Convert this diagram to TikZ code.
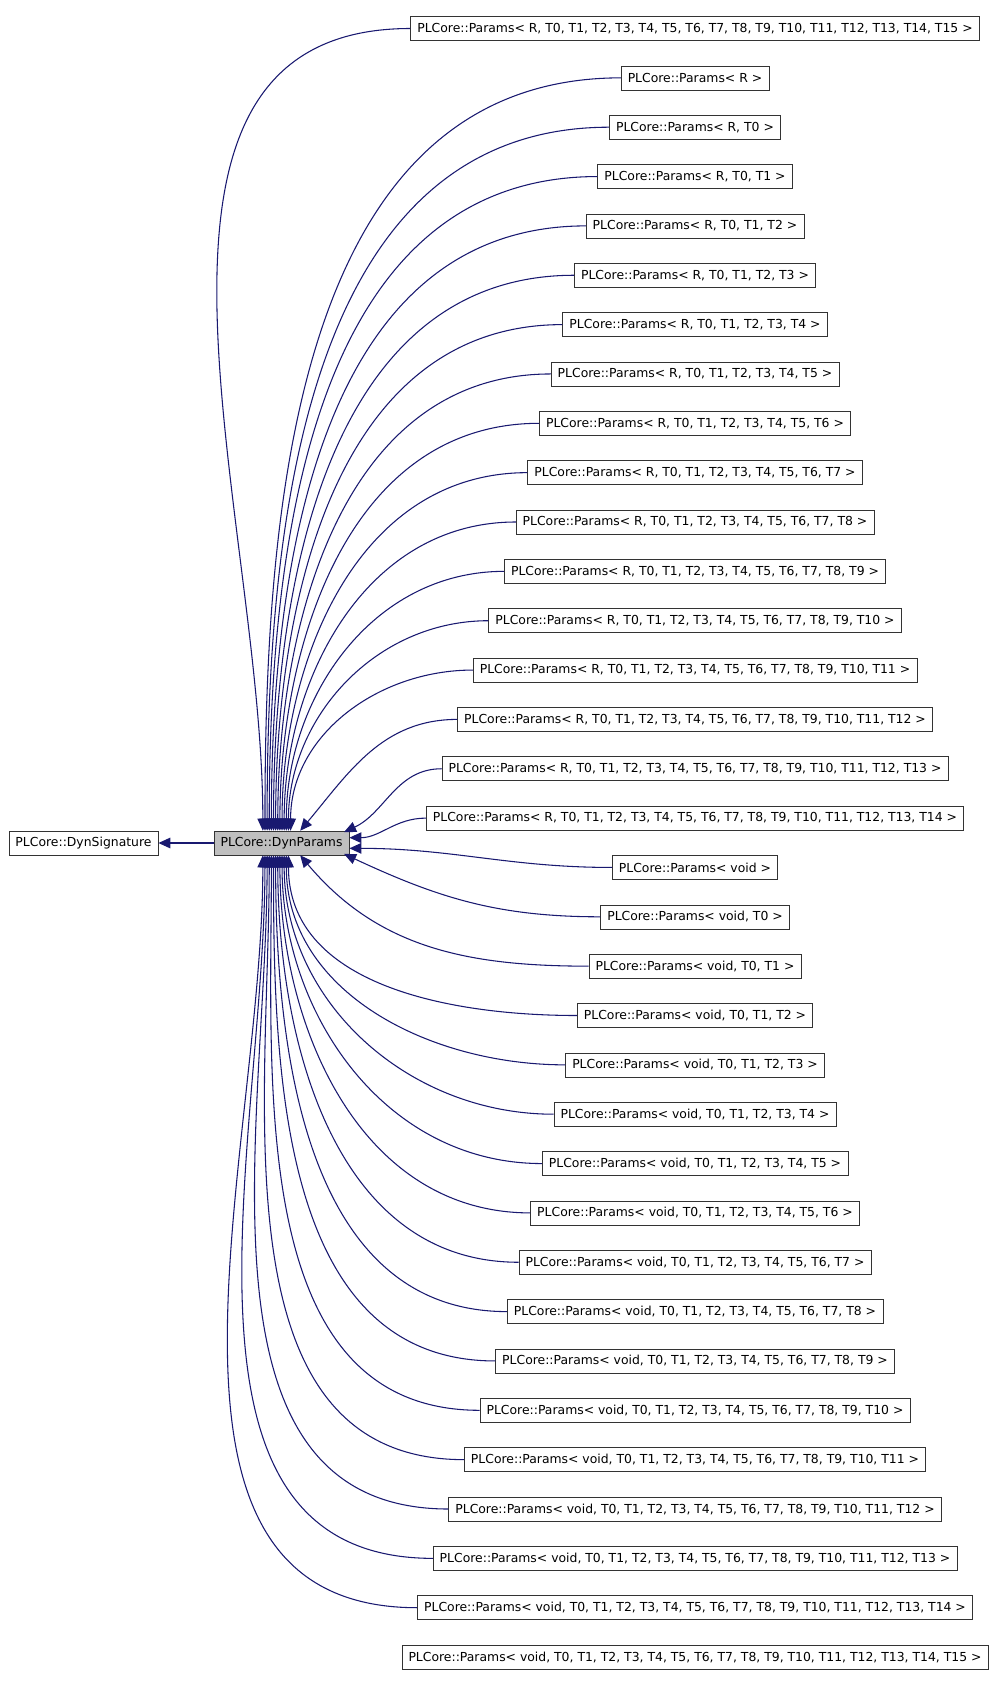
\documentclass[tikz,border=0pt]{standalone}
\usepackage{fontspec}
\setmainfont{DejaVu Sans}
\usetikzlibrary{arrows.meta,positioning}
\definecolor{myedge}{RGB}{25,25,112}
\definecolor{mygrey}{RGB}{191,191,191}
\tikzstyle{cls}=[draw=black!80,fill=white,rectangle,minimum height=18pt,inner xsep=5pt,inner ysep=0pt,font=\fontsize{9.3}{11}\selectfont]
\tikzstyle{edge}=[myedge,thick,-{Triangle[length=9pt,width=8pt]}]
\begin{document}
\begin{tikzpicture}[x=0.75pt,y=-0.75pt]
\useasboundingbox (0,0) rectangle (997,1685);
\node [cls,fill=mygrey] (dp) at (281.5,843) {PLCore::DynParams};
\node [cls] (ds) at (83.5,843) {PLCore::DynSignature};
\draw [edge] (dp) -- (ds);
\foreach \t [count=\i from 0] in {
  {R, T0, T1, T2, T3, T4, T5, T6, T7, T8, T9, T10, T11, T12, T13, T14, T15},
  {R}, {R, T0}, {R, T0, T1}, {R, T0, T1, T2}, {R, T0, T1, T2, T3},
  {R, T0, T1, T2, T3, T4}, {R, T0, T1, T2, T3, T4, T5},
  {R, T0, T1, T2, T3, T4, T5, T6}, {R, T0, T1, T2, T3, T4, T5, T6, T7},
  {R, T0, T1, T2, T3, T4, T5, T6, T7, T8}, {R, T0, T1, T2, T3, T4, T5, T6, T7, T8, T9},
  {R, T0, T1, T2, T3, T4, T5, T6, T7, T8, T9, T10},
  {R, T0, T1, T2, T3, T4, T5, T6, T7, T8, T9, T10, T11},
  {R, T0, T1, T2, T3, T4, T5, T6, T7, T8, T9, T10, T11, T12},
  {R, T0, T1, T2, T3, T4, T5, T6, T7, T8, T9, T10, T11, T12, T13},
  {R, T0, T1, T2, T3, T4, T5, T6, T7, T8, T9, T10, T11, T12, T13, T14},
  {void}, {void, T0}, {void, T0, T1}, {void, T0, T1, T2}, {void, T0, T1, T2, T3},
  {void, T0, T1, T2, T3, T4}, {void, T0, T1, T2, T3, T4, T5},
  {void, T0, T1, T2, T3, T4, T5, T6}, {void, T0, T1, T2, T3, T4, T5, T6, T7},
  {void, T0, T1, T2, T3, T4, T5, T6, T7, T8}, {void, T0, T1, T2, T3, T4, T5, T6, T7, T8, T9},
  {void, T0, T1, T2, T3, T4, T5, T6, T7, T8, T9, T10},
  {void, T0, T1, T2, T3, T4, T5, T6, T7, T8, T9, T10, T11},
  {void, T0, T1, T2, T3, T4, T5, T6, T7, T8, T9, T10, T11, T12},
  {void, T0, T1, T2, T3, T4, T5, T6, T7, T8, T9, T10, T11, T12, T13},
  {void, T0, T1, T2, T3, T4, T5, T6, T7, T8, T9, T10, T11, T12, T13, T14},
  {void, T0, T1, T2, T3, T4, T5, T6, T7, T8, T9, T10, T11, T12, T13, T14, T15}}
  \node [cls] (p\i) at (695,28.5+49.35*\i) {PLCore::Params< \t\ >};
% upper edges
\foreach \i in {0,...,13}
  \draw [edge] (p\i.west) to[out=180,in=90] ([xshift=-14pt+\i*1.6pt]dp.north);
\draw [edge] (p14.west) to[out=180,in=50] ([xshift=14pt]dp.north);
\draw [edge] (p15.west) to[out=180,in=25] ([xshift=-4pt,yshift=-1pt]dp.north east);
\draw [edge] (p16.west) to[out=180,in=0] ([yshift=4pt]dp.east);
% lower edges
\draw [edge] (p17.west) to[out=180,in=0] ([yshift=-4pt]dp.east);
\draw [edge] (p18.west) to[out=180,in=-25] ([xshift=-4pt,yshift=1pt]dp.south east);
\draw [edge] (p19.west) to[out=180,in=-50] ([xshift=14pt]dp.south);
\foreach \i in {20,...,32}
  \draw [edge] (p\i.west) to[out=180,in=-90] ([xshift=-14pt+(32-\i)*1.6pt]dp.south);
\end{tikzpicture}
\end{document}
